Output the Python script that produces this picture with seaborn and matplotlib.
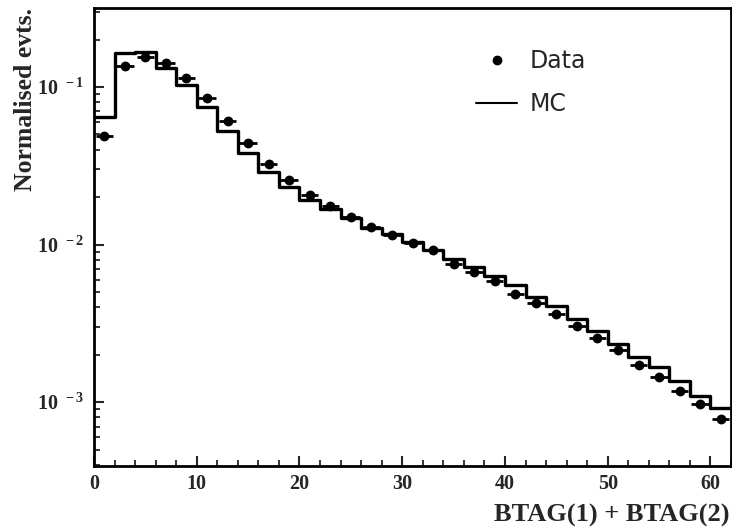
import numpy as np
import matplotlib
matplotlib.use("Agg")
import matplotlib.pyplot as plt
import matplotlib.ticker as mticker
from matplotlib.lines import Line2D
from matplotlib.legend_handler import HandlerLine2D
import seaborn as sns

# ---- data ----
bin_edges = list(range(0, 64, 2))
bin_centers = [1, 3, 5, 7, 9, 11, 13, 15, 17, 19, 21, 23, 25, 27, 29, 31,
               33, 35, 37, 39, 41, 43, 45, 47, 49, 51, 53, 55, 57, 59, 61]
mc_values = [0.0648, 0.164, 0.166, 0.1327, 0.103, 0.0743, 0.0528, 0.0383,
             0.0290, 0.0231, 0.0192, 0.0167, 0.0147, 0.0128, 0.0116, 0.01042,
             0.00923, 0.00809, 0.00717, 0.00634, 0.00553, 0.00467, 0.00407,
             0.00337, 0.00284, 0.00233, 0.00194, 0.00166, 0.00137, 0.00109,
             0.00092]
data_values = [0.0489, 0.1365, 0.1557, 0.1414, 0.1135, 0.0848, 0.0610, 0.0443,
               0.0327, 0.0257, 0.0206, 0.01755, 0.0149, 0.0130, 0.01148, 0.01016,
               0.00923, 0.00752, 0.00666, 0.00589, 0.00485, 0.00427, 0.00360,
               0.00305, 0.00257, 0.00214, 0.00171, 0.00144, 0.00118, 0.00097,
               0.00078]
xtick_values = [0, 10, 20, 30, 40, 50, 60]
xtick_labels = ["0", "10", "20", "30", "40", "50", "60"]
ytick_values = [1e-3, 1e-2, 1e-1]
ytick_labels = [r"$10^{\,\,\,-3}$", r"$10^{\,\,\,-2}$", r"$10^{\,\,\,-1}$"]
x_label = "BTAG(1) + BTAG(2)"
y_label = "Normalised evts."
legend_labels = ["Data", "MC"]

# ---- style ----
sns.set_style("ticks")
plt.rcParams["font.family"] = ["Liberation Serif", "DejaVu Serif"]
plt.rcParams["font.weight"] = "bold"
plt.rcParams["mathtext.fontset"] = "custom"
plt.rcParams["mathtext.rm"] = "Liberation Serif:bold"
plt.rcParams["mathtext.it"] = "Liberation Serif:bold"
plt.rcParams["mathtext.bf"] = "Liberation Serif:bold"

fig = plt.figure(figsize=(7.32, 5.31), dpi=100)
ax = fig.add_axes([94 / 732, 65 / 531, (731 - 94) / 732, (466 - 8) / 531])

# MC histogram (step)
sns.histplot(x=bin_centers, weights=mc_values, bins=bin_edges, element="step",
             fill=False, color="black", linewidth=2.4, ax=ax)

# Data points with horizontal bars
ax.errorbar(bin_centers, data_values, xerr=0.85, fmt="none", ecolor="black",
            elinewidth=2.0, capsize=0, zorder=3)
sns.scatterplot(x=bin_centers, y=data_values, color="black", s=50,
                edgecolor="black", linewidth=0, ax=ax, zorder=4)

ax.set_yscale("log")
ax.set_xlim(0, 62)
ax.set_ylim(3.93e-4, 0.3175)

ax.set_xticks(xtick_values)
ax.set_xticklabels(xtick_labels)
ax.xaxis.set_minor_locator(mticker.MultipleLocator(2))
ax.set_yticks(ytick_values)
ax.set_yticklabels(ytick_labels)
ax.yaxis.set_minor_locator(mticker.LogLocator(base=10, subs=np.arange(2, 10)))
ax.yaxis.set_minor_formatter(mticker.NullFormatter())

ax.tick_params(axis="both", which="major", direction="in", length=7.5, width=1.5,
               labelsize=14.5, top=False, right=False)
ax.tick_params(axis="both", which="minor", direction="in", length=4, width=1.3,
               top=False, right=False)
ax.tick_params(axis="x", which="major", pad=6)
ax.tick_params(axis="y", which="major", pad=7)

for sp in ax.spines.values():
    sp.set_visible(True)
    sp.set_linewidth(2.0)
    sp.set_color("black")

ax.set_xlabel("")
ax.set_ylabel("")
fig.text(730 / 732, 1 - 515 / 531, x_label, ha="right", va="center",
         fontsize=19, fontweight="bold")
fig.text(26 / 732, 1 - 8 / 531, y_label, ha="center", va="top", rotation=90,
         fontsize=18.5, fontweight="bold")


class RightMarkerHandler(HandlerLine2D):
    def get_xdata(self, legend, xdescent, ydescent, width, height, fontsize):
        xdata = np.array([-xdescent, -xdescent + width], float)
        xdata_marker = np.array([-xdescent + 0.75 * width], float)
        return xdata, xdata_marker


handles = [Line2D([], [], color="black", marker="o", linestyle="none", markersize=6),
           Line2D([], [], color="black", linewidth=1.5)]
leg = fig.legend(handles, legend_labels, loc="upper left",
                 bbox_to_anchor=(476 / 732, 1 - 49 / 531),
                 bbox_transform=fig.transFigure, frameon=False,
                 prop={"family": "DejaVu Sans", "size": 17, "weight": "normal"},
                 handlelength=1.75, handletextpad=0.5, labelspacing=0.8,
                 borderpad=0, borderaxespad=0,
                 handler_map={handles[0]: RightMarkerHandler()})

fig.savefig("out.png", dpi=100)
